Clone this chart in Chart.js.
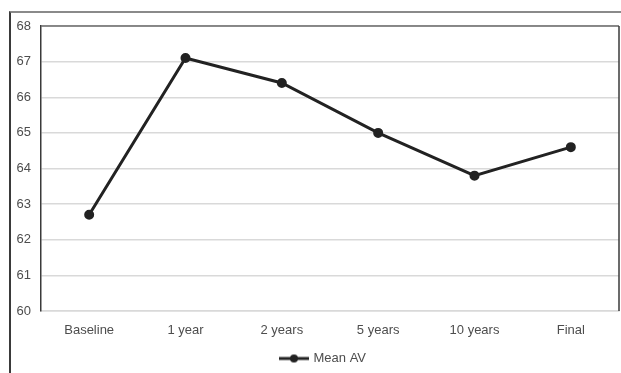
<!DOCTYPE html>
<html>
<head>
<meta charset="utf-8">
<script src="https://cdn.jsdelivr.net/npm/chart.js@4/dist/chart.umd.min.js"></script>
<style>
  html, body { margin: 0; padding: 0; background: #fff; }
  #wrap { position: relative; width: 621px; height: 373px; overflow: hidden; }
  #frame { position: absolute; left: 9px; top: 11px; width: 700px; height: 500px;
           border-top: 2px solid #8a8a8a; border-left: 2px solid #3a3a3a; }
  #chart { position: absolute; left: 0; top: 0; }
</style>
</head>
<body>
<div id="wrap">
  <div id="frame"></div>
  <canvas id="chart" width="621" height="373"></canvas>
</div>
<script>
// Data
const timepoints = ['Baseline', '1 year', '2 years', '5 years', '10 years', 'Final'];
const meanAV = [62.7, 67.1, 66.4, 65.0, 63.8, 64.6];
const seriesName = 'Mean AV';

const lineColor = '#222222';
const labelColor = '#4d4d4d';
const labelFont = { family: 'Liberation Sans, Arial, sans-serif', size: 13 };

// legend marker: short line with a dot in the middle
function legendMarker() {
    const c = document.createElement('canvas');
    c.width = 30;
    c.height = 10;
    const ctx = c.getContext('2d');
    ctx.strokeStyle = lineColor;
    ctx.lineWidth = 3;
    ctx.beginPath();
    ctx.moveTo(0, 5);
    ctx.lineTo(30, 5);
    ctx.stroke();
    ctx.fillStyle = lineColor;
    ctx.beginPath();
    ctx.arc(15, 5, 4, 0, Math.PI * 2);
    ctx.fill();
    return c;
}

// top and right edges of the plot box
const plotFrame = {
    id: 'plotFrame',
    afterDraw(chart) {
        const a = chart.chartArea;
        const ctx = chart.ctx;
        ctx.save();
        ctx.lineWidth = 1.5;
        ctx.strokeStyle = '#6a6a6a';
        ctx.beginPath();
        ctx.moveTo(a.left, a.top);
        ctx.lineTo(a.right, a.top);
        ctx.stroke();
        ctx.strokeStyle = '#3a3a3a';
        ctx.beginPath();
        ctx.moveTo(a.right, a.top);
        ctx.lineTo(a.right, a.bottom);
        ctx.stroke();
        ctx.restore();
    }
};

// legend in the original sits a bit right of centre and a bit lower
const nudgeLegend = {
    id: 'nudgeLegend',
    afterLayout(chart) {
        const lg = chart.legend;
        if (!lg) return;
        lg.left += 14;
        lg.right += 14;
        lg.top += 4;
        lg.bottom += 4;
    }
};

const marker = legendMarker();

new Chart(document.getElementById('chart'), {
    type: 'line',
    data: {
        labels: timepoints,
        datasets: [{
            label: seriesName,
            data: meanAV,
            borderColor: lineColor,
            backgroundColor: lineColor,
            borderWidth: 3,
            pointRadius: 3.5,
            pointHoverRadius: 3.5,
            tension: 0
        }]
    },
    options: {
        responsive: false,
        animation: false,
        layout: { autoPadding: false, padding: { top: 26, right: 2, left: 0, bottom: 2 } },
        plugins: {
            tooltip: { enabled: false },
            legend: {
                position: 'bottom',
                labels: {
                    usePointStyle: true,
                    pointStyleWidth: 26,
                    padding: 10,
                    color: labelColor,
                    font: labelFont,
                    generateLabels: chart => [{
                        text: seriesName,
                        pointStyle: marker,
                        fillStyle: lineColor,
                        strokeStyle: lineColor,
                        lineWidth: 0,
                        fontColor: labelColor,
                        datasetIndex: 0
                    }]
                }
            }
        },
        scales: {
            x: {
                offset: true,
                grid: { display: false, drawTicks: false },
                border: { display: true, color: '#d9d9d9', width: 1.5 },
                ticks: { padding: 12, color: labelColor, font: labelFont },
                afterFit: scale => {
                    scale.height = 27;
                    scale.paddingLeft = 0;
                    scale.paddingRight = 0;
                }
            },
            y: {
                min: 60,
                max: 68,
                ticks: { stepSize: 1, padding: 10, color: labelColor, font: labelFont },
                grid: { color: '#d9d9d9', lineWidth: 1.5, drawTicks: false },
                border: { display: true, color: '#3a3a3a', width: 1.5 },
                afterFit: scale => { scale.width = 41; }
            }
        }
    },
    plugins: [plotFrame, nudgeLegend]
});
</script>
</body>
</html>
